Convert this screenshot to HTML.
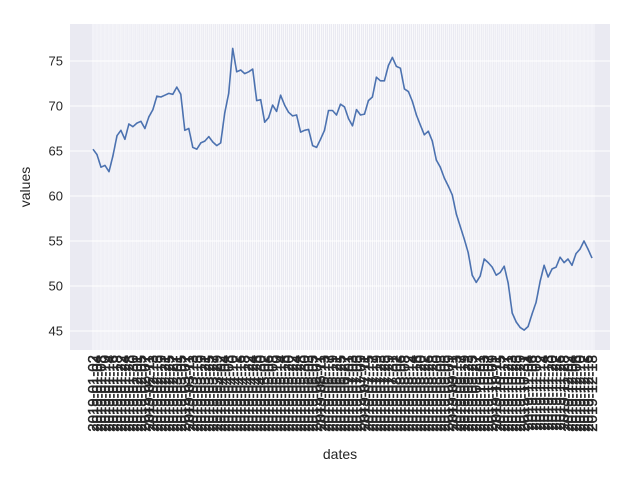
<!DOCTYPE html>
<html><head><meta charset="utf-8"><style>
body{margin:0;background:#fff}
svg text{font-family:"Liberation Sans","DejaVu Sans",sans-serif;fill:#262626}
</style></head><body>
<svg id="chart" width="640" height="480" xmlns="http://www.w3.org/2000/svg">
<rect x="70" y="24" width="540" height="326" fill="#eaeaf2"/>
<g id="grid"></g>
<g id="yticks"></g>
<g id="xticks"></g>
<path id="line" fill="none" stroke="#4c72b0" stroke-width="1.6" stroke-linejoin="round"/>
<text x="340" y="459" font-size="14" text-anchor="middle">dates</text>
<text x="0" y="0" font-size="14" text-anchor="middle" transform="translate(30,187) rotate(-90)">values</text>
</svg>
<script>
const values=[65.2,64.6,63.2,63.4,62.7,64.5,66.7,67.3,66.3,68,67.7,68.1,68.3,67.5,68.8,69.6,71.1,71,71.2,71.4,71.3,72.1,71.3,67.3,67.5,65.4,65.2,65.9,66.1,66.6,66,65.6,65.9,69.2,71.4,76.4,73.8,74,73.6,73.8,74.1,70.6,70.7,68.2,68.7,70.1,69.4,71.2,70.1,69.3,68.9,69,67.1,67.3,67.4,65.6,65.4,66.3,67.3,69.5,69.5,69,70.2,69.9,68.6,67.8,69.6,69,69.1,70.6,71,73.2,72.8,72.8,74.5,75.4,74.4,74.2,71.9,71.6,70.5,69,67.9,66.8,67.2,66.1,64,63.2,62,61.1,60.1,58,56.6,55.2,53.7,51.2,50.4,51.1,53,52.6,52.1,51.2,51.5,52.2,50.3,47,46,45.4,45.1,45.5,46.9,48.2,50.5,52.3,51,51.9,52.1,53.2,52.6,53,52.3,53.6,54.1,55,54.1,53.1];
const yTicks=[45,50,55,60,65,70,75];
const startDate="2019-01-02";
const dates=[];
(function(){let d=new Date(startDate+"T00:00:00Z");while(dates.length<values.length){const w=d.getUTCDay();if(w!==0&&w!==6)dates.push(d.toISOString().slice(0,10));d=new Date(d.getTime()+2*86400000);}})();
const NS="http://www.w3.org/2000/svg";
const xs=i=>93+i*(592-93)/(values.length-1);
const ys=v=>61+(75-v)*9;
const grid=document.getElementById('grid'),yt=document.getElementById('yticks'),xt=document.getElementById('xticks');
function mk(t,a){const e=document.createElementNS(NS,t);for(const k in a)e.setAttribute(k,a[k]);return e;}
yTicks.forEach(v=>{
 const l=mk('line',{x1:70,x2:610,y1:ys(v),y2:ys(v),stroke:'#fff','stroke-width':1});
 
 
 grid.appendChild(l);
 const t=mk('text',{x:63,y:ys(v)+4.5,'font-size':13,'text-anchor':'end'});
 
 
 t.textContent=v;yt.appendChild(t);
});
dates.forEach((d,i)=>{
 const l=mk('line',{x1:xs(i),x2:xs(i),y1:24,y2:350,stroke:'#fff','stroke-width':0.8});
 
 
 grid.appendChild(l);
 const l2=mk('line',{x1:xs(i)+2,x2:xs(i)+2,y1:24,y2:350,stroke:'#fff','stroke-width':0.6});
 
 
 grid.appendChild(l2);
 const t=mk('text',{x:0,y:0,'font-size':15,'text-anchor':'end',stroke:'#262626','stroke-width':0.4,transform:`translate(${xs(i)+5},355) rotate(-90)`});
 
 
 t.textContent=d;xt.appendChild(t);
});
document.getElementById('line').setAttribute('d',values.map((v,i)=>(i?'L':'M')+xs(i).toFixed(1)+','+ys(v).toFixed(1)).join(''));
</script>
</body></html>
